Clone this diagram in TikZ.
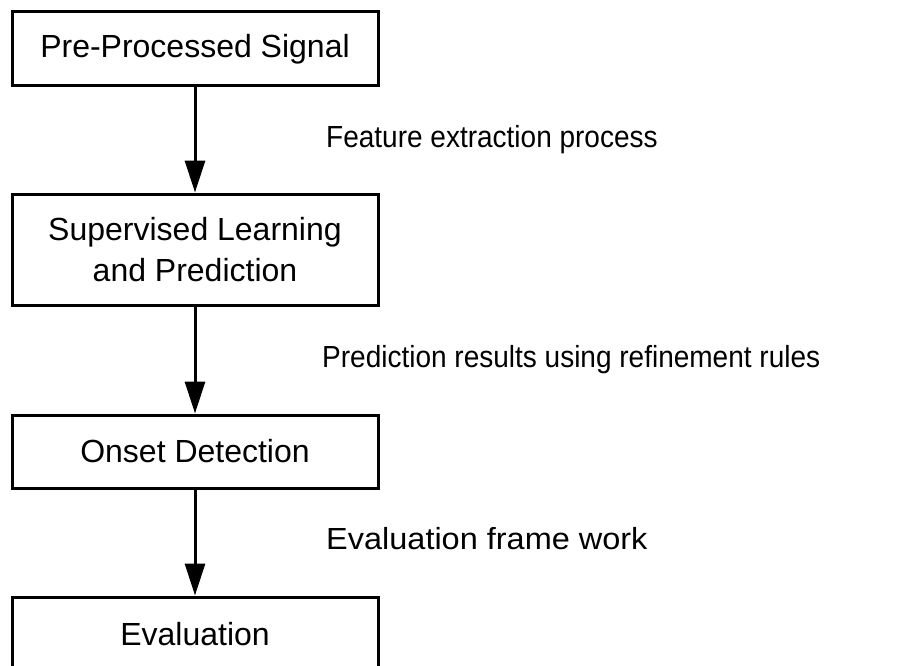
\documentclass[tikz,border=0pt]{standalone}
\usepackage{fontspec}
\usepackage{graphicx}
\setmainfont{Liberation Sans}
\usetikzlibrary{arrows.meta}
\tikzset{
  stagebox/.style={draw=black, line width=3pt, fill=white, minimum width=366pt,
    inner sep=0pt, align=center, font=\fontsize{32}{41}\selectfont},
  flowarrow/.style={line width=3pt, -{Triangle[length=32pt, width=20pt]}},
  steplabel/.style={anchor=base west, inner sep=0pt, font=\fontsize{30.5}{36}\selectfont}
}
\begin{document}
\begin{tikzpicture}[x=1pt, y=-1pt]
  \useasboundingbox (0,0) rectangle (910,666);
  \clip (0,0) rectangle (910,666);
  \fill[white] (0,0) rectangle (910,666);

  % processing stages
  \node[stagebox, minimum height=74pt]  (pre)  at (195,49)    {Pre-Processed Signal};
  \node[stagebox, minimum height=111pt] (sup)  at (195,249.5) {Supervised Learning\\and Prediction};
  \node[stagebox, minimum height=73pt]  (ons)  at (195,451.5) {Onset Detection};
  \node[stagebox, minimum height=74pt]  (eval) at (195,634)   {Evaluation};

  % transitions between stages
  \draw[flowarrow] (pre.south) -- (sup.north);
  \draw[flowarrow] (sup.south) -- (ons.north);
  \draw[flowarrow] (ons.south) -- (eval.north);

  % descriptions of each transition
  \node[steplabel] (l1) at (326,147) {\scalebox{0.918}[1]{Feature extraction process}};
  \node[steplabel] (l2) at (322,367) {\scalebox{0.918}[1]{Prediction results using refinement rules}};
  \node[steplabel] (l3) at (326,549) {\scalebox{1.065}[1]{Evaluation frame work}};
\end{tikzpicture}
\end{document}
